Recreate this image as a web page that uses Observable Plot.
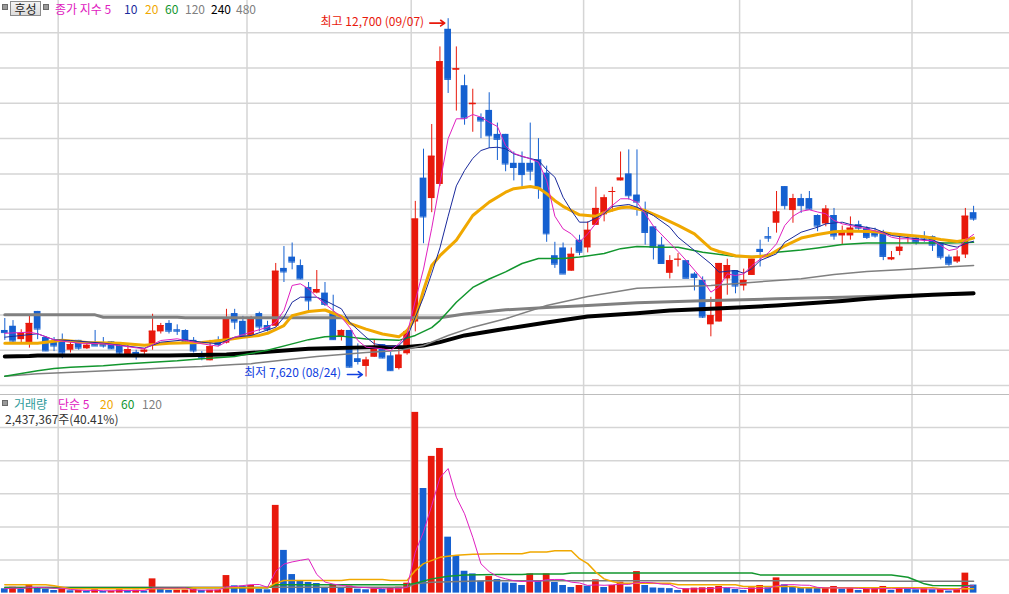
<!DOCTYPE html>
<html><head><meta charset="utf-8">
<script src="https://cdn.jsdelivr.net/npm/d3@7"></script>
<script src="https://cdn.jsdelivr.net/npm/@observablehq/plot@0.6"></script>
<style>
body{margin:0;background:#fff;}
#wrap{position:relative;width:1009px;height:594px;overflow:hidden;font-family:"Noto Sans CJK KR","Noto Sans",sans-serif;font-size:12px;}
#wrap svg{display:block;position:absolute;left:0;}
.h{position:absolute;white-space:nowrap;line-height:13px;font-size:12px;}
.sq{position:absolute;width:4px;height:4px;background:#9a9a9a;border:1px solid #6a6a6a;}
.btn{position:absolute;left:10px;top:1px;width:29px;height:13px;border:1px solid #8c8c8c;background:linear-gradient(#f4f4f4,#dcdcdc);font-size:12px;line-height:13px;text-align:center;color:#222;}
.sep{position:absolute;left:0;top:394px;width:1009px;height:1px;background:#bdbdbd;}
</style></head><body><div id="wrap"></div>
<script>
// ---------- data (daily candles, oldest -> newest) ----------
const open  = [8280,8340,8150,8100,8550,8180,8120,8140,8000,8140, 8020,8100,8100,8120,8080,7940,7970,7970,8060,8260, 8380,8290,8280,8140,7950,7850,8140,8100,8520,8410, 8190,8520,8350,8340,9160,9320,9200,8890,8810,8810, 8520,8180,8280,7880,7770,7900,8080,7920,7740,7950, 8400,10440,10150,10350,12550,11970,11750,11480,11300,11400, 11060,11060,10650,10650,10650,10700,10510,9340,9450,9120, 9560,9450,9770,9920,10240,10400,10500,10200,9980,9750, 9490,9090,9280,9270,9080,8990,8360,8400,9010,9130, 8910,9060,9430,9610,9800,10320,9980,10150,10150,9910, 9790,9910,9620,9620,9780,9730,9680,9650,9280,9400, 9610,9590,9600,9610,9520,9320,9250,9350,9950];
const high  = [8450,8420,8290,8480,8550,8190,8180,8230,8110,8140, 8120,8280,8180,8120,8080,8070,8000,8020,8510,8380, 8420,8360,8290,8180,7980,8140,8190,8580,8580,8480, 8480,8540,8410,9230,9470,9520,9280,8960,9130,8960, 8780,8290,8280,8090,7900,8150,8080,7970,8070,8290, 10110,10850,11200,12300,12700,12300,11900,11700,11350,11650, 11220,11060,10810,10810,11220,11000,10610,9530,9520,9450, 9630,9820,10310,10200,10310,10810,10840,10840,10100,9750, 9600,9340,9370,9270,9100,9040,8750,9230,9290,9130, 9150,9290,9560,9740,10250,10320,10210,10210,10250,9920, 10050,10010,9760,9890,9830,9750,9730,9700,9400,9610, 9640,9620,9680,9620,9520,9350,9410,10010,10040];
const low   = [8140,8080,8090,8030,8150,7980,7980,7880,7960,8000, 8010,8060,8030,8010,7920,7930,7860,7940,8000,8230, 8230,8210,8100,7960,7850,7850,8050,8090,8290,8190, 8180,8260,8260,8330,8960,9140,9000,8520,8800,8620, 8140,8130,7750,7790,7620,7900,7880,7700,7720,7930, 8260,9510,9950,10320,11640,11390,11190,11090,11000,10860, 10690,10530,10400,10310,10400,10140,9530,9160,9080,9120, 9340,9380,9770,9820,9960,10400,10130,9900,9490,9280, 9230,9010,9180,9020,8840,8450,8190,8400,8780,8800, 8840,9060,9180,9530,9660,9990,9800,9940,9990,9680, 9750,9560,9500,9560,9700,9570,9590,9270,9270,9340, 9510,9490,9530,9400,9280,9190,9230,9300,9830];
const close = [8250,8130,8240,8380,8300,7990,8060,7960,8080,8030, 8070,8060,8060,8020,7960,8010,7910,8000,8270,8350, 8270,8270,8120,7990,7890,8050,8080,8460,8400,8210, 8460,8330,8290,9120,9110,9250,9010,8700,8860,8650, 8150,8280,7760,7840,7860,8040,7890,7710,7930,8260, 9860,9890,10750,12090,11840,11990,11290,11500,11250,11040, 10990,10640,10590,10490,10540,10300,9650,9220,9080,9360, 9390,9700,10010,10160,10250,10440,10190,10100,9670,9460, 9230,9270,9290,9020,9030,8470,8490,9230,9200,8910, 8990,9290,9400,9590,9960,10050,10150,10050,10000,9760, 10000,9620,9680,9730,9730,9600,9620,9330,9310,9460, 9640,9530,9590,9490,9320,9220,9320,9900,9860];
const volume = [1300000,1780000,1090000,2600000,1600000,1180000,790000,1180000,700000,800000, 550000,1000000,500000,600000,1000000,800000,850000,600000,4300000,1100000, 800000,850000,900000,1200000,800000,850000,900000,5300000,2200000,2100000, 2300000,1100000,1000000,26500000,12900000,5600000,3500000,3200000,2900000,1500000, 2500000,1500000,2100000,1200000,1000000,1300000,1090000,1500000,1780000,3000000, 54600000,31600000,41300000,43700000,16900000,11300000,6600000,5800000,3600000,5000000, 4100000,3100000,2950000,2300000,5800000,3500000,5800000,3200000,2300000,1700000, 2300000,2100000,4000000,1700000,2300000,3300000,1800000,6500000,2300000,1550000, 1450000,1350000,800000,1300000,1500000,1600000,1650000,2000000,1500000,1100000, 800000,1600000,2300000,1600000,4600000,2500000,1800000,1500000,1450000,1400000, 1600000,2000000,1200000,1500000,800000,1200000,1600000,2000000,800000,1600000, 1300000,1000000,1300000,1000000,1200000,600000,1000000,6031600,2437367];
// index of first trading day of each month shown
const monthStart = [7, 30, 50, 71, 90, 111];
const hiDate = "09/07", loDate = "08/24";
const priceTicks = [7500,8000,8500,9000,9500,10000,10500,11000,11500,12000,12500];
const volTicks = [10e6,20e6,30e6,40e6,50e6];

// exponential moving averages of close: [index, value]
const ema5 = [[0,8240],[3,8256],[4,8233],[6,8148],[7,8128],[9,8100],[12,8091],[14,8067],[16,8034],[17,8020],[19,8138],[21,8162],[22,8138],[24,8091],[26,8057],[28,8185],[30,8256],[32,8326],[33,8397],[34,8563],[35,8918],[36,8942],[37,8871],[38,8752],[39,8658],[41,8468],[42,8326],[43,8138],[44,8043],[46,8020],[47,7996],[48,8091],[49,8230],[50,8700],[51,9150],[52,9730],[53,10370],[54,11000],[55,11281],[56,11281],[57,11342],[58,11304],[59,11233],[60,11172],[61,10900],[62,10790],[64,10714],[65,10666],[66,10406],[67,9900],[68,9720],[69,9650],[70,9531],[71,9650],[72,9800],[73,9960],[75,10147],[76,10147],[77,10098],[78,9934],[79,9760],[81,9520],[82,9400],[83,9272],[85,9000],[86,8823],[87,8900],[88,9083],[89,9059],[90,9083],[91,9200],[93,9380],[94,9509],[95,9768],[96,9900],[97,9970],[98,9991],[99,9960],[100,9934],[101,9840],[102,9792],[104,9744],[105,9721],[107,9660],[108,9602],[109,9580],[110,9580],[112,9556],[113,9556],[114,9485],[115,9414],[116,9438],[117,9560],[118,9641]];
const ema10 = [[0,8185],[4,8233],[6,8148],[8,8138],[12,8100],[16,8043],[17,8029],[19,8114],[22,8148],[24,8114],[26,8091],[28,8185],[30,8209],[33,8326],[34,8468],[35,8681],[36,8752],[38,8752],[39,8705],[41,8587],[42,8397],[44,8185],[45,8091],[47,8053],[48,8067],[49,8185],[50,8468],[51,8750],[52,9090],[53,9450],[54,9900],[55,10330],[56,10548],[57,10720],[58,10831],[59,10870],[60,10878],[61,10856],[62,10785],[63,10746],[65,10690],[66,10560],[67,10453],[68,10169],[69,9981],[70,9815],[71,9815],[73,9934],[74,10038],[76,10066],[77,10028],[79,9910],[81,9744],[82,9602],[84,9414],[86,9225],[87,9106],[88,9120],[89,9130],[90,9092],[91,9154],[92,9272],[94,9367],[95,9531],[97,9673],[99,9744],[100,9792],[102,9815],[103,9782],[106,9721],[108,9626],[111,9580],[113,9556],[115,9485],[116,9461],[117,9509],[118,9546]];
const ema20 = [[0,8100],[4,8100],[7,8140],[10,8110],[14,8100],[17,8070],[20,8100],[24,8110],[27,8150],[29,8185],[31,8210],[32,8240],[34,8350],[35,8490],[37,8550],[39,8570],[41,8480],[42,8380],[44,8300],[46,8230],[48,8190],[49,8280],[50,8450],[51,8850],[52,9200],[53,9340],[55,9560],[57,9910],[59,10100],[61,10240],[62,10290],[64,10320],[65,10300],[66,10220],[67,10120],[68,10040],[69,9980],[70,9920],[72,9900],[73,9950],[75,10020],[76,10030],[78,9980],[80,9880],[82,9770],[84,9650],[86,9440],[87,9400],[89,9340],[91,9320],[93,9340],[95,9480],[97,9590],[99,9640],[101,9680],[103,9690],[106,9680],[108,9650],[110,9630],[112,9610],[114,9570],[116,9540],[117,9560],[118,9590]];
const ema60 = [[0,7630],[2,7670],[4,7710],[6,7740],[8,7760],[12,7780],[15,7810],[18,7830],[21,7850],[24,7880],[28,7910],[32,8000],[35,8090],[37,8150],[39,8190],[41,8200],[44,8160],[48,8140],[50,8210],[52,8320],[53,8420],[55,8680],[57,8890],[59,9010],[61,9110],[63,9230],[65,9300],[68,9300],[70,9320],[73,9370],[75,9440],[77,9470],[80,9460],[82,9460],[85,9390],[89,9330],[92,9330],[94,9390],[97,9420],[99,9450],[102,9500],[105,9520],[110,9520],[115,9520],[118,9530]];
const ema120 = [[0,7630],[4,7666],[9,7690],[13,7713],[16,7727],[20,7751],[24,7769],[28,7798],[30,7810],[38,7911],[44,7968],[48,7996],[51,8067],[54,8209],[57,8327],[61,8446],[66,8634],[71,8762],[77,8879],[86,8918],[94,8989],[97,9013],[101,9074],[105,9116],[109,9140],[113,9169],[118,9201]];
const ema240 = [[0,7911],[3,7918],[4,7925],[20,7925],[27,7939],[29,7954],[37,8021],[45,8044],[49,8046],[51,8067],[53,8115],[56,8210],[61,8304],[66,8393],[71,8478],[77,8525],[81,8563],[86,8587],[90,8610],[94,8634],[98,8667],[102,8698],[105,8729],[109,8762],[113,8786],[118,8808]];
const ema480 = [[0,8502],[11,8502],[12,8468],[21,8468],[22,8460],[53,8460],[56,8514],[61,8573],[66,8606],[71,8634],[77,8672],[86,8705],[94,8729],[102,8752],[105,8762],[109,8776],[113,8786],[118,8800]];
// simple moving averages of volume (20/60/120): [index, shares]
const vma20 = [[0,2.5e6],[5,2.5e6],[6,2.2e6],[8,1.3e6],[22,1.3e6],[23,1.6e6],[32,1.6e6],[33,3.0e6],[34,3.8e6],[41,3.8e6],[42,4.1e6],[46,4.1e6],[47,3.8e6],[49,3.8e6],[50,6.8e6],[51,8.9e6],[53,10.8e6],[55,11.4e6],[57,11.7e6],[60,11.9e6],[63,11.9e6],[64,12.4e6],[66,12.4e6],[67,12.8e6],[69,12.8e6],[70,10.4e6],[71,8.9e6],[72,6.3e6],[73,4.3e6],[74,3.5e6],[75,3.0e6],[81,3.0e6],[82,2.5e6],[89,2.5e6],[90,2.0e6],[96,2.0e6],[97,1.6e6],[113,1.6e6],[114,1.3e6],[118,1.3e6]];
const vma60 = [[0,1.6e6],[32,1.6e6],[33,2.5e6],[49,2.5e6],[50,3.0e6],[52,4.3e6],[54,5.1e6],[56,5.5e6],[60,5.6e6],[63,5.6e6],[64,5.8e6],[68,5.8e6],[69,6.1e6],[91,6.1e6],[92,5.5e6],[108,5.5e6],[110,4.8e6],[111,3.8e6],[112,2.8e6],[113,2.3e6],[118,2.2e6]];
const vma120 = [[0,1.8e6],[49,1.8e6],[50,2.8e6],[52,3.3e6],[60,3.8e6],[61,3.7e6],[106,3.7e6],[107,3.6e6],[118,3.6e6]];

// ---------- drawing ----------
const RED = "#e8190c", BLUE = "#1560d0";
const C5 = "#e020c0", C10 = "#1a2a9c", C20 = "#f0a800", C60 = "#12962e", C120 = "#808080", C240 = "#000000", C480 = "#808080";
const FONT = '"Noto Sans CJK KR","Noto Sans",sans-serif';
const n = close.length;
const candles = d3.range(n).map(i => ({i, o: open[i], h: high[i], l: low[i], c: close[i], col: close[i] >= open[i] ? RED : BLUE}));
const vols = d3.range(n).map(i => ({i, v: volume[i], col: (i > 0 && volume[i] > volume[i-1]) ? RED : BLUE}));
const xDomain = [-0.524, 122.375];
const hw = 0.41;
const grid = {stroke: "#d5d5d5", strokeWidth: 1.5};
const line = (arr, stroke, w) => Plot.line(arr, {x: d => d[0], y: d => d[1], stroke, strokeWidth: w});
const hiI = d3.maxIndex(high), loI = d3.minIndex(low);
const fmt = d3.format(",");
const HI_COL = "#e8190c", LO_COL = "#1040e0";

const pricePlot = Plot.plot({
  width: 1009, height: 394, margin: 0,
  x: {domain: xDomain, axis: null},
  y: {domain: [7372.4, 12957.9], axis: null},
  color: {type: "identity"},
  marks: [
    Plot.ruleY(priceTicks, grid),
    Plot.ruleX(monthStart, {x: d => d - 0.5, ...grid}),
    Plot.ruleX(candles, {x: "i", y1: "l", y2: "h", stroke: "col", strokeWidth: 1}),
    Plot.rect(candles, {x1: d => d.i - hw, x2: d => d.i + hw, y1: "o", y2: "c", fill: "col"}),
    Plot.ruleY(candles, {x1: d => d.i - hw, x2: d => d.i + hw, y: "c", stroke: "col", strokeWidth: 1}),
    line(ema480, C480, 3),
    line(ema240, C240, 4),
    line(ema120, C120, 1.5),
    line(ema60, C60, 1.5),
    line(ema20, C20, 3),
    line(ema10, C10, 1),
    line(ema5, C5, 1),
    Plot.text([hiI], {x: d => d, y: d => high[d], text: d => `최고 ${fmt(high[d])} (${hiDate})`, textAnchor: "end", dx: -24, dy: 3.5, fill: HI_COL, fontSize: 12, fontFamily: FONT}),
    Plot.arrow([hiI], {x1: d => d - 2.24, x2: d => d - 0.41, y1: d => high[d], y2: d => high[d], dy: 4.4, stroke: HI_COL, strokeWidth: 1.6, headLength: 7, headAngle: 70}),
    Plot.text([loI], {x: d => d, y: d => low[d], text: d => `최저 ${fmt(low[d])} (${loDate})`, textAnchor: "end", dx: -25, dy: -3.5, fill: LO_COL, fontSize: 12, fontFamily: FONT}),
    Plot.arrow([loI], {x1: d => d - 2.27, x2: d => d - 0.45, y1: d => low[d], y2: d => low[d], dy: -2.5, stroke: LO_COL, strokeWidth: 1.6, headLength: 7, headAngle: 70})
  ]
});

const volPlot = Plot.plot({
  width: 1009, height: 200, marginTop: 0, marginLeft: 0, marginRight: 0, marginBottom: 1.4,
  x: {domain: xDomain, axis: null},
  y: {domain: [0, 60e6], axis: null},
  color: {type: "identity"},
  marks: [
    Plot.ruleY(volTicks, grid),
    Plot.ruleX(monthStart, {x: d => d - 0.5, ...grid}),
    Plot.rect(vols, {x1: d => d.i - hw, x2: d => d.i + hw, y1: 0, y2: "v", fill: "col"}),
    line(vma120, "#7a7a7a", 1.5),
    line(vma60, C60, 1.5),
    line(vma20, C20, 1.5),
    Plot.lineY(vols, Plot.windowY({k: 5, anchor: "end"}, {x: "i", y: "v", stroke: C5, strokeWidth: 1}))
  ]
});

const wrap = document.getElementById("wrap");
pricePlot.style.top = "0px";
volPlot.style.top = "394px";
wrap.appendChild(pricePlot);
wrap.appendChild(volPlot);

const sep = document.createElement("div"); sep.className = "sep"; wrap.appendChild(sep);

function addSq(x, y){ const s = document.createElement("div"); s.className = "sq"; s.style.left = x+"px"; s.style.top = y+"px"; wrap.appendChild(s); }
function addText(txt, x, y, color){ const s = document.createElement("div"); s.className = "h"; s.textContent = txt; s.style.left = x+"px"; s.style.top = y+"px"; s.style.color = color; wrap.appendChild(s); }

// price header
addSq(2, 4);
const b = document.createElement("div"); b.className = "btn"; b.textContent = "후성"; wrap.appendChild(b);
addSq(43, 4);
const priceLegend = [["종가 지수 5", 55, C5], ["10", 124, C10], ["20", 145, C20], ["60", 165, C60], ["120", 185, C120], ["240", 211, C240], ["480", 236, C480]];
priceLegend.forEach(([t, x, c]) => addText(t, x, 2, c));

// volume header
addSq(2, 400);
const volLegend = [["거래량", 14, "#2e9a9a"], ["단순 5", 58, C5], ["20", 100, C20], ["60", 121, C60], ["120", 142, C120]];
volLegend.forEach(([t, x, c]) => addText(t, x, 397, c));
addText(`${fmt(volume[n-1])}주(${(volume[n-1] / volume[n-2] * 100).toFixed(2)}%)`, 5, 412, "#333333");
</script>
</body></html>
